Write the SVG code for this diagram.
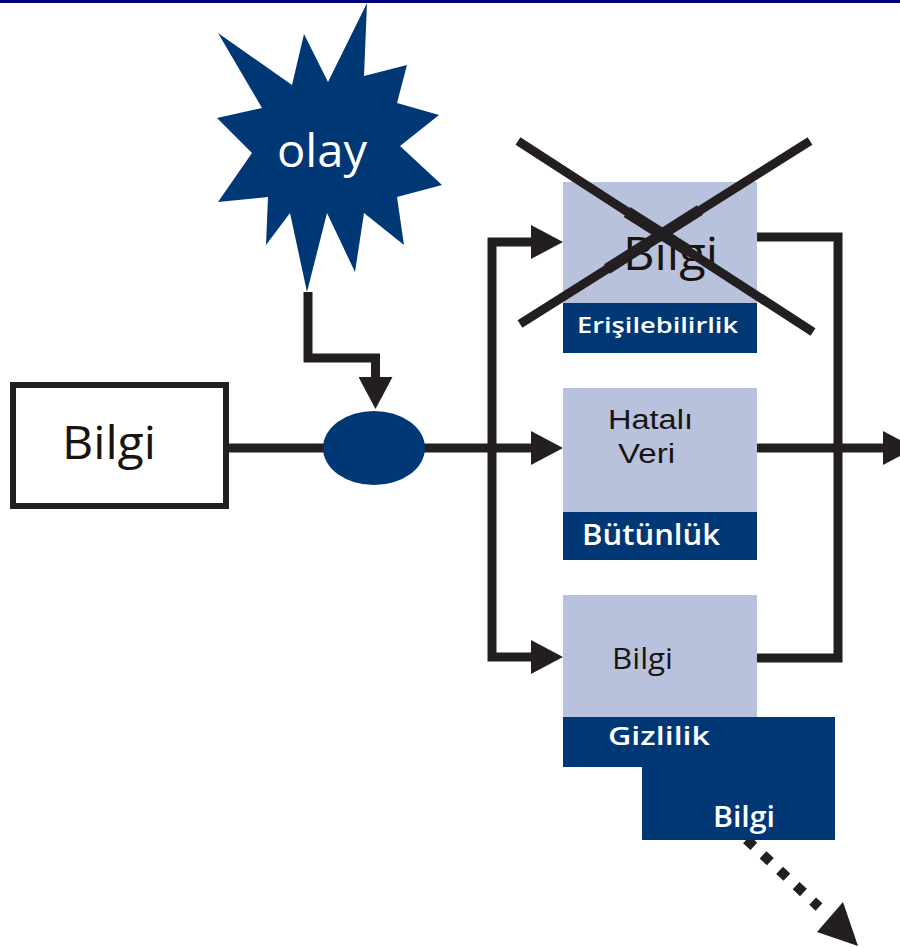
<svg xmlns="http://www.w3.org/2000/svg" width="900" height="947" viewBox="0 0 900 947">
  <defs>
    <style>
      .navy { fill: #003876; }
      .pale { fill: #b8c2dc; }
      .wire { fill: none; stroke: #231f20; stroke-width: 9; stroke-linejoin: miter; stroke-linecap: butt; }
      .ink { fill: #231f20; }
      .dark { font-family: "Open Sans", "Liberation Sans", sans-serif; fill: #1a1410; font-weight: 500; }
      .small { font-family: "Liberation Sans", "Open Sans", sans-serif; fill: #1a1410; }
      .light { font-family: "Open Sans", "Liberation Sans", sans-serif; fill: #ffffff; font-weight: 600; }
      .cross { stroke: #231f20; stroke-width: 9; stroke-linecap: butt; }
    </style>
    <marker id="head" viewBox="0 0 32 34" markerUnits="userSpaceOnUse" markerWidth="32" markerHeight="34" refX="0" refY="17" orient="auto-start-reverse">
      <path d="M0,0 L32,17 L0,34 z" fill="#231f20"/>
    </marker>
  </defs>

  <rect x="0" y="0" width="900" height="3" fill="#000080"/>

  <!-- connectors -->
  <g id="connectors">
    <path class="wire" d="M308,292 V358 H375.5 V377" marker-end="url(#head)"/>
    <path class="wire" d="M226,448 H324"/>
    <path class="wire" d="M424,448 H531" marker-end="url(#head)"/>
    <path class="wire" d="M531,242 H492 V657 H531" marker-start="url(#head)" marker-end="url(#head)"/>
    <path class="wire" d="M757,237 H838 V658 H757"/>
    <path class="wire" d="M757,448 H883" marker-end="url(#head)"/>
    <path fill="none" stroke="#231f20" stroke-width="10" stroke-dasharray="10 12.6" d="M746.5,839.5 L819,907"/>
    <polygon class="ink" points="817,932 843,902 858,946"/>
  </g>

  <!-- event star -->
  <g id="olay">
    <polygon class="navy" points="218,33 292,85 304,34 328,82 367,3 364,76 407,65 397,103 439,115 400,146 442,185 397,197 404,245 364,213 355,272 327,213 307,292 290,213 266,245 268,197 218,202 252,153 217,118 262,108"/>
    <text class="light" style="font-weight:500" x="322" y="167" font-size="46" text-anchor="middle" textLength="90" lengthAdjust="spacingAndGlyphs">olay</text>
  </g>

  <!-- source -->
  <g id="kaynak">
    <rect x="13" y="385" width="213" height="121" fill="#ffffff" stroke="#231f20" stroke-width="6"/>
    <text class="dark" x="62" y="459" font-size="46" textLength="94" lengthAdjust="spacingAndGlyphs">Bilgi</text>
  </g>

  <!-- junction -->
  <g id="kavsak">
    <ellipse class="navy" cx="374" cy="448" rx="51" ry="37"/>
  </g>

  <!-- availability -->
  <g id="erisilebilirlik">
    <rect class="pale" x="563" y="182" width="194" height="121"/>
    <rect class="navy" x="563" y="303" width="194" height="50"/>
    <text class="dark" x="623" y="270" font-size="46" textLength="95" lengthAdjust="spacingAndGlyphs">Bilgi</text>
    <text class="light" x="577" y="333" font-size="22" textLength="161" lengthAdjust="spacingAndGlyphs">Erişilebilirlik</text>
    <line class="cross" x1="518" y1="141" x2="813" y2="332"/>
    <line class="cross" x1="810" y1="141" x2="520" y2="324"/>
    <line class="cross" style="stroke-width:12" x1="627" y1="212" x2="687" y2="250"/>
    <line class="cross" style="stroke-width:11" x1="700" y1="210" x2="607" y2="269"/>
  </g>

  <!-- integrity -->
  <g id="butunluk">
    <rect class="pale" x="563" y="388" width="194" height="124"/>
    <rect class="navy" x="563" y="512" width="194" height="48"/>
    <text class="small" x="608" y="429" font-size="27" textLength="85" lengthAdjust="spacingAndGlyphs">Hatalı</text>
    <text class="small" x="618" y="463" font-size="27" textLength="57" lengthAdjust="spacingAndGlyphs">Veri</text>
    <text class="light" x="582" y="545" font-size="29" textLength="138" lengthAdjust="spacingAndGlyphs">Bütünlük</text>
  </g>

  <!-- confidentiality -->
  <g id="gizlilik">
    <rect class="pale" x="563" y="595" width="194" height="122"/>
    <path class="navy" d="M563,717 H835 V840 H642 V767 H563 z"/>
    <text class="dark" x="612" y="669" font-size="29" textLength="61" lengthAdjust="spacingAndGlyphs">Bilgi</text>
    <text class="light" x="608" y="745" font-size="26" textLength="102" lengthAdjust="spacingAndGlyphs">Gizlilik</text>
    <text class="light" x="713" y="827" font-size="28" textLength="62" lengthAdjust="spacingAndGlyphs">Bilgi</text>
  </g>
</svg>
